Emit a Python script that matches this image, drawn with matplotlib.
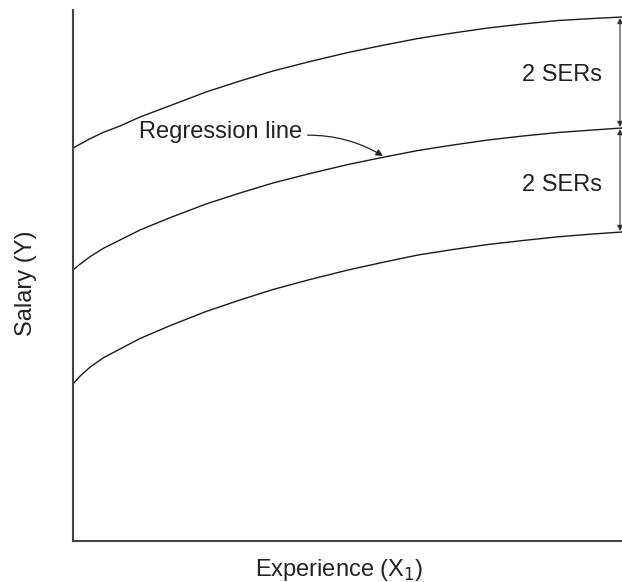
import matplotlib
matplotlib.use('Agg')
import matplotlib.pyplot as plt

plt.rcParams['font.family'] = ['Liberation Sans', 'DejaVu Sans']

# Experience (x) and salary values (arbitrary units, no ticks)
experience = [0, 7, 17, 30, 47, 67, 97, 133, 167, 200, 237, 275, 310, 345,
              380, 415, 450, 485, 520, 549]
upper_band = [393, 396.8, 402.3, 408.5, 415, 424, 435.3, 449, 460, 470,
              479.5, 488.5, 495.7, 502.5, 508, 513, 517, 520.5, 522.5, 524]
regression = [271, 276.8, 284.3, 292.5, 301, 311, 323.3, 337, 348, 358,
              367.5, 376.5, 383.7, 390.5, 396, 401, 405, 408.5, 411, 413]
lower_band = [157, 164.8, 173.8, 183, 192, 202.5, 215.3, 229.5, 241, 251.5,
              261.5, 271, 278.7, 286, 291.5, 296.5, 300.5, 304.2, 307, 309]

band_label = '2 SERs'

fig = plt.figure(figsize=(6.22, 5.82), dpi=100)
ax = fig.add_axes([73/622, 41/582, 549/622, 531/582])

for ys in (upper_band, regression, lower_band):
    ax.plot(experience, ys, color='#1a1a1a', lw=1.0, solid_joinstyle='round')

ax.set_xlim(0, 549)
ax.set_ylim(0, 531)

# Double-headed arrows marking 2 SERs above and below the line
x_arr = 547
for (y0, y1), y_txt in zip(((upper_band[-1], regression[-1]),
                            (regression[-1], lower_band[-1])), (460, 350)):
    ax.annotate('', xy=(x_arr, y0 - 1), xytext=(x_arr, y1 + 1),
                arrowprops=dict(arrowstyle='<|-|>', color='#333333', lw=0.8,
                                mutation_scale=8, shrinkA=0, shrinkB=0),
                annotation_clip=False)
    ax.text(529, y_txt, band_label, ha='right', va='baseline',
            fontsize=17, color='#222222')

# Regression line label
ax.annotate('Regression line', xy=(310, 385), xytext=(229, 403),
            ha='right', va='baseline', fontsize=17, color='#222222',
            arrowprops=dict(arrowstyle='-|>', color='#222222', lw=0.9,
                            mutation_scale=10, shrinkA=2, shrinkB=0,
                            relpos=(1.0, 0.35),
                            connectionstyle='arc3,rad=-0.15'))

for side in ('top', 'right'):
    ax.spines[side].set_visible(False)
for side in ('left', 'bottom'):
    ax.spines[side].set_color('#444444')
    ax.spines[side].set_linewidth(1.5)

ax.set_xticks([])
ax.set_yticks([])

fig.text(339/622, 1 - 576/582, 'Experience (X$_1$)', ha='center', va='baseline',
         fontsize=17, color='#222222')
fig.text(26/622, 1 - 283/582, 'Salary (Y)', rotation=90, ha='center', va='center',
         fontsize=17, color='#222222')

plt.savefig('out.png', dpi=100)
